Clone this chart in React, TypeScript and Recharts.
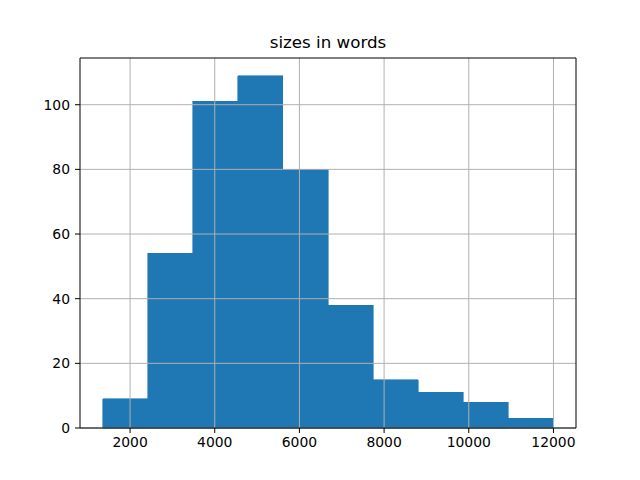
import React from "react";
import {
  ComposedChart,
  XAxis,
  YAxis,
  ReferenceArea,
  ReferenceLine,
  Line,
} from "recharts";

const binStart = 1350;
const binWidth = 1065;
const counts = [9, 54, 101, 109, 80, 38, 15, 11, 8, 3];
const xTicks = [2000, 4000, 6000, 8000, 10000, 12000];
const yTicks = [0, 20, 40, 60, 80, 100];
const title = "sizes in words";

const bins = counts.map((c, i) => ({
  x0: binStart + i * binWidth,
  x1: binStart + (i + 1) * binWidth,
  mid: binStart + (i + 0.5) * binWidth,
  count: c,
}));

const xMin = binStart;
const xMax = binStart + counts.length * binWidth;
const xPad = (xMax - xMin) * 0.05;
const xDomain: [number, number] = [xMin - xPad, xMax + xPad];
const yDomain: [number, number] = [0, Math.max(...counts) * 1.05];

const font = "DejaVu Sans, sans-serif";

export default function App() {
  return (
    <div style={{ position: "absolute", left: 0, top: 0, width: 640, height: 480, background: "#fff" }}>
      <div
        style={{
          position: "absolute",
          left: 80,
          width: 496,
          top: 32,
          textAlign: "center",
          fontFamily: font,
          fontSize: 16.7,
          color: "#000",
          lineHeight: "20px",
        }}
      >
        {title}
      </div>
      <ComposedChart
        width={640}
        height={480}
        data={bins}
        margin={{ top: 58, right: 64, bottom: 0, left: 0 }}
      >
        <XAxis
          type="number"
          dataKey="mid"
          domain={xDomain}
          ticks={xTicks}
          allowDataOverflow
          height={52}
          tickSize={5}
          tickMargin={4}
          stroke="#000"
          tick={{ fill: "#000", fontFamily: font, fontSize: 13.9 }}
          tickLine={{ stroke: "#000" }}
          axisLine={{ stroke: "#000" }}
        />
        <YAxis
          type="number"
          domain={yDomain}
          ticks={yTicks}
          allowDataOverflow
          width={80}
          tickSize={5}
          tickMargin={5}
          stroke="#000"
          tick={{ fill: "#000", fontFamily: font, fontSize: 13.9 }}
          tickLine={{ stroke: "#000" }}
          axisLine={{ stroke: "#000" }}
        />
        {bins.map((b, i) => (
          <ReferenceArea
            key={"bar" + i}
            x1={b.x0}
            x2={b.x1}
            y1={0}
            y2={b.count}
            fill="#1f77b4"
            fillOpacity={1}
            stroke="#1f77b4"
            strokeWidth={0.6}
            shapeRendering="crispEdges"
          />
        ))}
        {xTicks.map((t) => (
          <ReferenceLine key={"gx" + t} x={t} stroke="#b0b0b0" strokeWidth={1} />
        ))}
        {yTicks.map((t) => (
          <ReferenceLine key={"gy" + t} y={t} stroke="#b0b0b0" strokeWidth={1} />
        ))}
        <ReferenceLine x={xDomain[1]} stroke="#000" strokeWidth={1} ifOverflow="extendDomain" />
        <ReferenceLine y={yDomain[1]} stroke="#000" strokeWidth={1} ifOverflow="extendDomain" />
        <Line
          dataKey="count"
          stroke="none"
          dot={false}
          activeDot={false}
          isAnimationActive={false}
        />
      </ComposedChart>
    </div>
  );
}
